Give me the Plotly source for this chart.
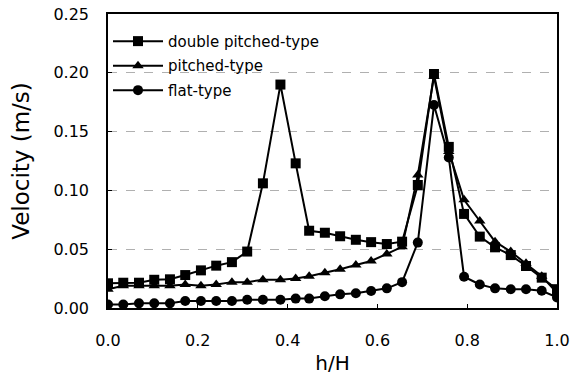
import plotly.graph_objects as go

h_over_H = [0.000, 0.034, 0.069, 0.103, 0.138, 0.172, 0.207, 0.241, 0.276, 0.310,
            0.345, 0.384, 0.418, 0.448, 0.483, 0.517, 0.552, 0.586, 0.621, 0.655,
            0.690, 0.726, 0.759, 0.793, 0.828, 0.862, 0.897, 0.931, 0.966, 1.000]

double_pitched = [0.021, 0.0215, 0.0215, 0.024, 0.0244, 0.028, 0.032, 0.036, 0.039, 0.048,
                  0.106, 0.190, 0.123, 0.0657, 0.064, 0.061, 0.058, 0.056, 0.0544, 0.0564,
                  0.1046, 0.199, 0.137, 0.080, 0.0607, 0.0516, 0.045, 0.0357, 0.0258, 0.016]

pitched = [0.016, 0.019, 0.019, 0.019, 0.019, 0.020, 0.019, 0.020, 0.022, 0.022,
           0.024, 0.024, 0.025, 0.027, 0.030, 0.033, 0.0366, 0.040, 0.046, 0.052,
           0.113, 0.197, 0.133, 0.092, 0.074, 0.0564, 0.048, 0.038, 0.027, 0.013]

flat = [0.003, 0.003, 0.004, 0.004, 0.004, 0.006, 0.006, 0.006, 0.006, 0.007,
        0.007, 0.007, 0.008, 0.008, 0.010, 0.0116, 0.0125, 0.0145, 0.0167, 0.022,
        0.0556, 0.1726, 0.128, 0.0266, 0.020, 0.0167, 0.016, 0.016, 0.0147, 0.009]

x_ticks = [0.0, 0.2, 0.4, 0.6, 0.8, 1.0]
x_tick_labels = ["0.0", "0.2", "0.4", "0.6", "0.8", "1.0"]
y_ticks = [0.00, 0.05, 0.10, 0.15, 0.20, 0.25]
y_tick_labels = ["0.00", "0.05", "0.10", "0.15", "0.20", "0.25"]

FONT = "DejaVu Sans, Arial, sans-serif"

fig = go.Figure()
series = [
    ("double pitched-type", double_pitched, "square", 10),
    ("pitched-type", pitched, "triangle-up", 10),
    ("flat-type", flat, "circle", 10),
]
for name, vals, sym, size in series:
    fig.add_trace(go.Scatter(
        x=h_over_H, y=vals, name=name, mode="lines+markers",
        legendgroup=name,
        line=dict(color="black", width=2),
        marker=dict(symbol=sym, size=size, color="black"),
    ))

fig.update_layout(
    width=574, height=379,
    margin=dict(l=108, r=17, t=14, b=71),
    paper_bgcolor="white", plot_bgcolor="white",
    font=dict(family=FONT, color="black", size=16),
    showlegend=True,
    legend=dict(
        x=0.0, y=0.963, xanchor="left", yanchor="top",
        bgcolor="rgba(0,0,0,0)", font=dict(size=15),
        itemwidth=50, traceorder="grouped", tracegroupgap=2,
    ),
    xaxis=dict(
        range=[0, 1], tickvals=x_ticks, ticktext=x_tick_labels,
        showline=True, linecolor="black", linewidth=1.5, mirror=True,
        ticks="inside", ticklen=4, tickcolor="black",
        showgrid=False, zeroline=False, automargin=False,
        ticklabelstandoff=17,
        tickfont=dict(size=16),
        title=dict(text="h/H", font=dict(size=20), standoff=7),
    ),
    yaxis=dict(
        range=[0, 0.25], tickvals=y_ticks, ticktext=y_tick_labels,
        showline=True, linecolor="black", linewidth=1.5, mirror=True,
        ticks="inside", ticklen=4, tickcolor="black",
        showgrid=True, gridcolor="#b0b0b0", gridwidth=1, griddash="dash",
        zeroline=False, automargin=False,
        ticklabelstandoff=14,
        tickfont=dict(size=16),
        title=dict(text="Velocity (m/s)", font=dict(size=23), standoff=17),
    ),
)

fig.write_html("out.html")
